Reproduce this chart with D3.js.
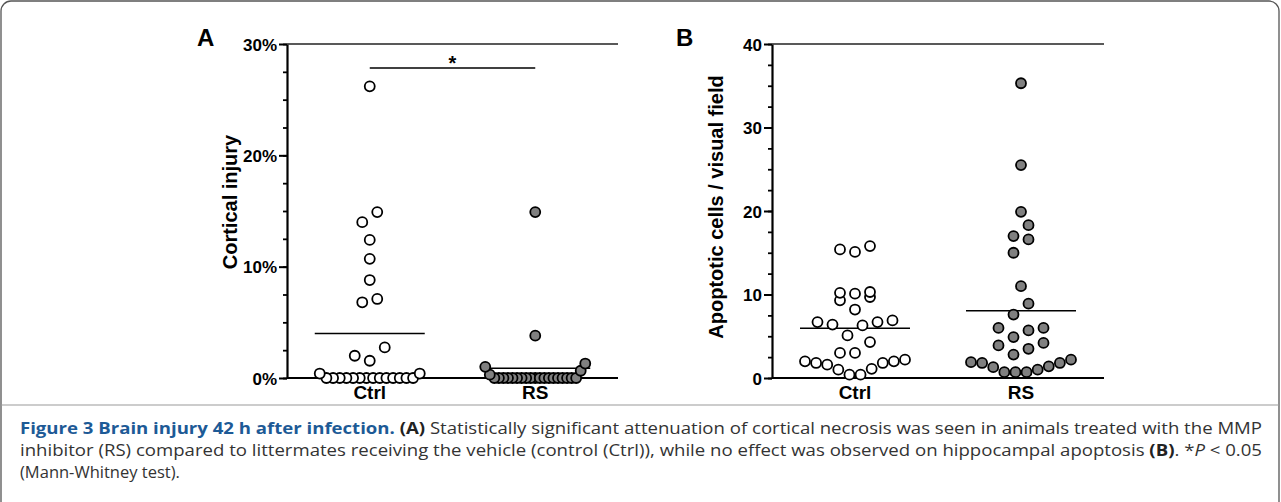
<!DOCTYPE html>
<html>
<head>
<meta charset="utf-8">
<script src="https://cdnjs.cloudflare.com/ajax/libs/d3/7.8.5/d3.min.js"></script>
<style>
  body { margin: 0; background: #fff; }
  svg { display: block; }
</style>
</head>
<body>
<div id="chart"></div>
<script>
// values
const categories = ["Ctrl", "RS"];

// panel A, cortical injury (%)
const injuryCtrl = [26.2, 14.9, 14.0, 12.4, 10.7, 8.8, 7.1, 6.8, 2.75, 2.0, 1.55, 0.4, 0.4,
  0, 0, 0, 0, 0, 0, 0, 0, 0, 0, 0, 0, 0, 0];
const injuryRS = [14.9, 3.8, 1.3, 1.0, 0.65, 0.3,
  0, 0, 0, 0, 0, 0, 0, 0, 0, 0, 0, 0, 0, 0, 0, 0, 0, 0, 0];
const injuryTicks = [0, 10, 20, 30];

// panel B, apoptotic cells per visual field
const apoCtrl = [15.8, 15.4, 15.1, 10.3, 10.2, 10.1, 9.7, 9.3, 8.2, 6.9, 6.7, 6.7, 6.4, 6.3,
  5.1, 4.3, 3.0, 3.0, 2.2, 2.0, 2.0, 1.8, 1.8, 1.6, 1.1, 1.0, 0.4, 0.4];
const apoRS = [35.3, 25.5, 19.9, 18.3, 17.0, 16.6, 15.0, 11.0, 8.9, 7.6, 6.0, 6.0, 5.7, 4.9,
  4.2, 3.9, 3.5, 2.8, 2.2, 1.9, 1.8, 1.8, 1.4, 1.3, 1.0, 0.7, 0.7, 0.7];
const apoTicks = [0, 10, 20, 30, 40];

const width = 1281, height = 502;
const fill = { Ctrl: "#fff", RS: "#808080" };
const font = "Liberation Sans, Arial, sans-serif";

const svg = d3.select("#chart").append("svg").attr("width", width).attr("height", height);

// figure frame + caption separator
svg.append("rect").attr("x", 1).attr("y", 1).attr("width", width - 3).attr("height", 560)
  .attr("rx", 10).attr("fill", "none").attr("stroke", "#555").attr("stroke-width", 1.3);
svg.append("line").attr("x1", 1).attr("x2", width - 2).attr("y1", 405).attr("y2", 405)
  .attr("stroke", "#999").attr("stroke-width", 1);

// scatter-dot layout: sort, cut into rows ~15px tall, spread each row center-out
function rows(values, y) {
  const pts = values.map(v => ({ v: v, py: y(v), x: 0 })).sort((a, b) => a.v - b.v);
  const out = [];
  let row = [];
  pts.forEach(p => {
    if (row.length && row[0].py - p.py > 15.2) { out.push(row); row = []; }
    row.push(p);
  });
  if (row.length) out.push(row);
  out.forEach(r => {
    const n = r.length, s = n > 1 ? Math.min(15, 100 / (n - 1)) : 0;
    r.forEach((p, i) => {
      if (n % 2) p.x = i === 0 ? 0 : (i % 2 ? -1 : 1) * Math.ceil(i / 2) * s;
      else p.x = (i % 2 ? 1 : -1) * (Math.floor(i / 2) + 0.5) * s;
    });
  });
  return pts;
}

function panel(o) {
  const g = svg.append("g");
  const y = d3.scaleLinear().domain(o.domain).range([378, 44]);
  const x = d3.scalePoint().domain(categories).range([o.x0, o.x1]).padding(0.5);

  // minor ticks
  g.append("g").attr("transform", `translate(${o.x0},0)`)
    .call(d3.axisLeft(y).tickValues(d3.range(o.domain[0], o.domain[1] + 0.01, o.minor)).tickSize(4).tickFormat(""))
    .call(a => a.select(".domain").remove())
    .selectAll("line").attr("stroke", "#000").attr("stroke-width", 1.8);

  // major ticks + labels
  const ya = g.append("g").attr("transform", `translate(${o.x0},0)`)
    .call(d3.axisLeft(y).tickValues(o.ticks).tickSize(8).tickPadding(2).tickSizeOuter(0).tickFormat(o.fmt))
    .attr("font-family", font).attr("font-size", 17).attr("font-weight", "bold");
  ya.select(".domain").attr("stroke-width", 2.2);
  ya.selectAll(".tick line").attr("stroke-width", 2);
  ya.selectAll(".tick text").attr("fill", "#000").attr("dy", "0.36em");

  // x axis line + top line
  g.append("line").attr("x1", o.x0).attr("x2", o.x1).attr("y1", y(0)).attr("y2", y(0))
    .attr("stroke", "#000").attr("stroke-width", 2.2);
  g.append("line").attr("x1", o.x0).attr("x2", o.x1).attr("y1", y(o.domain[1])).attr("y2", y(o.domain[1]))
    .attr("stroke", "#222").attr("stroke-width", 1.6);

  categories.forEach((c, i) => {
    g.append("text").attr("x", x(c)).attr("y", 399).attr("text-anchor", "middle")
      .attr("font-family", font).attr("font-weight", "bold").attr("font-size", 19).text(c);
    const vals = o.series[i];
    g.append("line").attr("x1", x(c) - 55).attr("x2", x(c) + 55)
      .attr("y1", y(d3.mean(vals))).attr("y2", y(d3.mean(vals)))
      .attr("stroke", "#000").attr("stroke-width", 1.6);
    g.append("g").selectAll("circle").data(rows(vals, y)).join("circle")
      .attr("cx", d => x(c) + d.x).attr("cy", d => d.py).attr("r", 5)
      .attr("fill", fill[c]).attr("stroke", "#000").attr("stroke-width", 1.8);
  });

  g.append("text").attr("transform", `translate(${o.titleX},${o.titleY}) rotate(-90)`)
    .attr("text-anchor", "middle").attr("font-family", font)
    .attr("font-weight", "bold").attr("font-size", 20).text(o.title);
  g.append("text").attr("x", o.letterX).attr("y", 46)
    .attr("font-family", font).attr("font-weight", "bold").attr("font-size", 24).text(o.letter);
  return { x: x, y: y, g: g };
}

const A = panel({ x0: 287, x1: 618, domain: [0, 30], ticks: injuryTicks, minor: 2.5,
  fmt: d => d + "%", series: [injuryCtrl, injuryRS], title: "Cortical injury",
  titleX: 237, titleY: 202, letter: "A", letterX: 197 });
panel({ x0: 772, x1: 1104, domain: [0, 40], ticks: apoTicks, minor: 2.5,
  fmt: d => d, series: [apoCtrl, apoRS], title: "Apoptotic cells / visual field",
  titleX: 723, titleY: 207, letter: "B", letterX: 676 });

// significance bar
A.g.append("line").attr("x1", A.x("Ctrl")).attr("x2", A.x("RS")).attr("y1", 68).attr("y2", 68)
  .attr("stroke", "#000").attr("stroke-width", 1.6);
A.g.append("text").attr("x", (A.x("Ctrl") + A.x("RS")) / 2).attr("y", 70).attr("text-anchor", "middle")
  .attr("font-family", font).attr("font-weight", "bold").attr("font-size", 20).text("*");

// caption
const cap = svg.append("g").attr("font-family", "Open Sans, sans-serif").attr("font-size", 16.5).attr("fill", "#333");
const l1 = cap.append("text").attr("x", 20).attr("y", 434).attr("textLength", 1242).attr("lengthAdjust", "spacingAndGlyphs");
l1.append("tspan").attr("font-weight", "bold").attr("fill", "#1d5a96").text("Figure 3 Brain injury 42 h after infection.");
l1.append("tspan").attr("font-weight", "bold").attr("fill", "#222").text(" (A)");
l1.append("tspan").text(" Statistically significant attenuation of cortical necrosis was seen in animals treated with the MMP");
const l2 = cap.append("text").attr("x", 20).attr("y", 456).attr("textLength", 1242).attr("lengthAdjust", "spacingAndGlyphs");
l2.append("tspan").text("inhibitor (RS) compared to littermates receiving the vehicle (control (Ctrl)), while no effect was observed on hippocampal apoptosis ");
l2.append("tspan").attr("font-weight", "bold").attr("fill", "#222").text("(B)");
l2.append("tspan").text(". *");
l2.append("tspan").attr("font-style", "italic").text("P");
l2.append("tspan").text(" < 0.05");
cap.append("text").attr("x", 20).attr("y", 478).text("(Mann-Whitney test).");
</script>
</body>
</html>
